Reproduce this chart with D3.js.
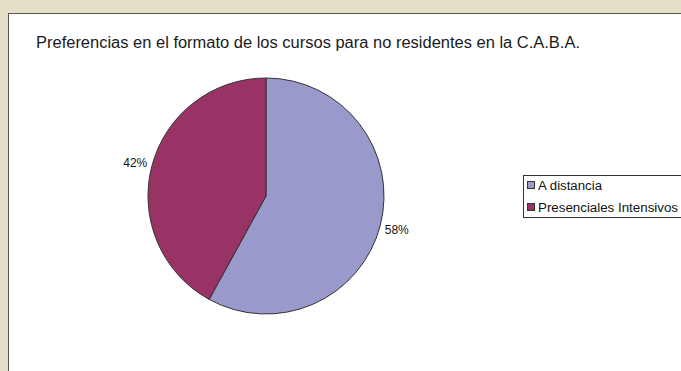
<!DOCTYPE html>
<html><head><meta charset="utf-8">
<script src="https://cdn.jsdelivr.net/npm/d3@7"></script>
<style>body{margin:0;background:#e6dfc8;}svg{display:block;}</style>
</head><body>
<svg id="c" width="681" height="371"></svg>
<script>
const categories = ["A distancia", "Presenciales Intensivos"];
const values = [58, 42];
const colors = ["#9999cc", "#993366"];
const title = "Preferencias en el formato de los cursos para no residentes en la C.A.B.A.";

const svg = d3.select("#c");
svg.append("rect").attr("x",0).attr("y",0).attr("width",681).attr("height",371).attr("fill","#e6dfc8");
svg.append("rect").attr("x",8.5).attr("y",13.5).attr("width",700).attr("height",400)
  .attr("fill","#ffffff").attr("stroke","#555").attr("stroke-width",1);

svg.append("text").attr("x",36).attr("y",48).text(title)
  .attr("font-family","Liberation Sans, Arial, sans-serif").attr("font-size",16)
  .attr("fill","#1a1a1a").attr("textLength",544).attr("lengthAdjust","spacingAndGlyphs");

const cx = 266, cy = 196, r = 118;
const pie = d3.pie().sort(null).value(d=>d)(values);
const arc = d3.arc().innerRadius(0).outerRadius(r);
const g = svg.append("g").attr("transform",`translate(${cx},${cy})`);
g.selectAll("path").data(pie).join("path")
  .attr("d",arc).attr("fill",(d,i)=>colors[i]).attr("stroke","#333").attr("stroke-width",1);

const labelArc = d3.arc().innerRadius(r+17).outerRadius(r+17);
g.selectAll("text").data(pie).join("text")
  .attr("transform",d=>{const [x,y]=labelArc.centroid(d);return `translate(${x},${y})`;})
  .attr("text-anchor","middle").attr("dy","0.35em")
  .attr("font-family","Liberation Sans, Arial, sans-serif").attr("font-size",12)
  .attr("fill","#111").text(d=>d.value+"%");

const lg = svg.append("g");
lg.append("rect").attr("x",523.5).attr("y",175.5).attr("width",170).attr("height",42)
  .attr("fill","#fff").attr("stroke","#333");
const legendLens = [64, 140];
categories.forEach((c,i)=>{
  const y = 181 + i*22;
  lg.append("rect").attr("x",527.5).attr("y",y+0.5).attr("width",7).attr("height",7)
    .attr("fill",colors[i]).attr("stroke","#333");
  lg.append("text").attr("x",538).attr("y",y+9).text(c)
    .attr("font-family","Liberation Sans, Arial, sans-serif").attr("font-size",12).attr("fill","#111")
    .attr("textLength",legendLens[i]).attr("lengthAdjust","spacingAndGlyphs");
});
</script>
</body></html>
